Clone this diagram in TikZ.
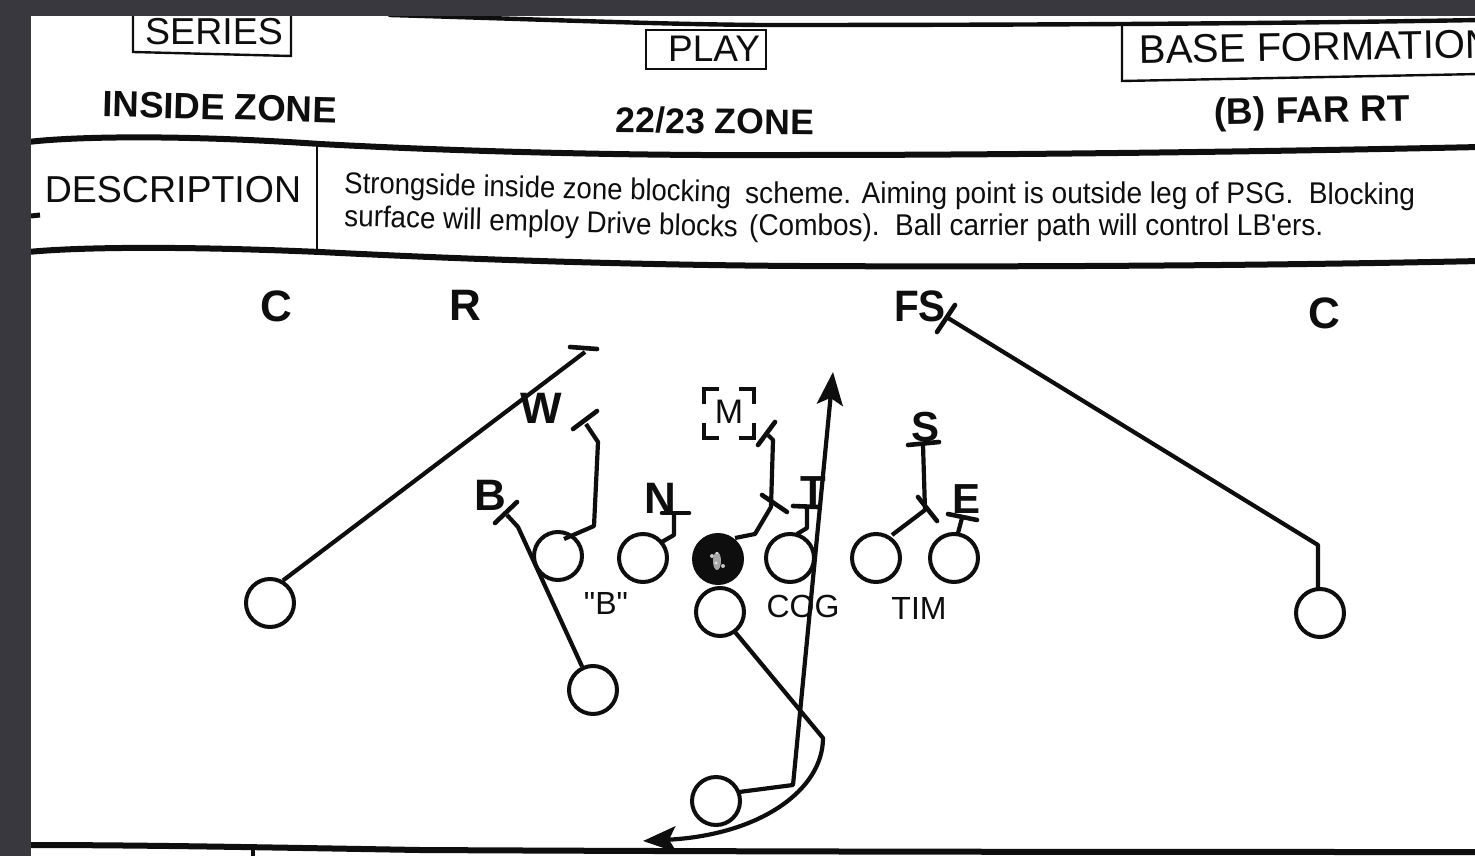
\documentclass[tikz,border=0pt]{standalone}
\usepackage{fontspec}
\usepackage{graphicx}
\setmainfont{Liberation Sans}
\newfontfamily\plainf{Liberation Sans}
\usetikzlibrary{arrows.meta}
\definecolor{ink}{HTML}{0E0E0E}
\definecolor{chrome}{HTML}{38383E}
\newcommand{\fs}[1]{\fontsize{#1}{#1}\selectfont}
\tikzset{
  rule/.style={draw=ink,line width=6pt,line cap=round},
  thinbox/.style={draw=ink,line width=2.4pt},
  player/.style={circle,draw=ink,line width=4pt,fill=white,minimum size=48pt,inner sep=0pt},
  route/.style={draw=ink,line width=4.2pt,line join=round},
  bar/.style={draw=ink,line width=4.6pt,line cap=round},
  defl/.style={text=ink,font=\fs{44}\bfseries,inner sep=0pt},
  lbl/.style={text=ink,font=\fs{32},inner sep=0pt},
  head/.style={text=ink,inner sep=0pt},
  desc/.style={text=ink,font=\fs{30},inner sep=0pt,anchor=base west},
  bigtip/.style={-{Stealth[length=33pt,width=26pt,inset=7pt]}},
}
\begin{document}
\begin{tikzpicture}[x=1pt,y=-1pt]
\useasboundingbox (0,0) rectangle (1475,856);
\clip (0,0) rectangle (1475,856);
\fill[white] (0,0) rectangle (1475,856);
% header rules
\draw[rule,line width=4.4pt] (390,15) .. controls (560,20) and (650,24) .. (760,25) .. controls (1000,25) and (1250,24) .. (1480,20);
\draw[rule] (28,142) .. controls (70,137) and (170,134) .. (320,144) .. controls (470,152) and (640,156) .. (800,155) .. controls (1000,155) and (1250,152) .. (1480,147);
\draw[rule] (28,252) .. controls (80,247) and (180,246) .. (320,252) .. controls (480,260) and (640,265) .. (800,266) .. controls (1000,267) and (1250,266) .. (1480,261);
\draw[rule] (28,845) .. controls (150,845) and (300,848) .. (420,850) .. controls (800,852) and (1200,852) .. (1480,852);
\draw[thinbox,line width=4pt] (253,849) -- (253,860);
\draw[thinbox] (317,145) -- (317,250);
\draw[ink,line width=5pt] (31,216) -- (40,215);
% boxes
\draw[thinbox] (133,14) -- (133,52) -- (291,56) -- (291,14);
\draw[thinbox] (646,30) rectangle (766,69);
\draw[thinbox] (1122,24) -- (1122,81) -- (1480,74);
% header text
\node[head,font=\fs{37.5}] (series) at (214,32) {SERIES};
\node[head,font=\fs{37}] (play) at (714,49) {PLAY};
\node[head,font=\fs{40},anchor=west,rotate=1] (base) at (1139,50) {BASE FORMATION};
\node[head,font=\fs{36.6}\bfseries,rotate=-1.5] (inzone) at (220,107) {INSIDE ZONE};
\node[head,font=\fs{35.6}\bfseries,rotate=-0.6] (zone) at (715,121) {22/23 ZONE};
\node[head,font=\fs{37}\bfseries,rotate=1] (far) at (1312,113) {(B) FAR RT};
\node[head,font=\fs{37.5}] (descr) at (173,190) {DESCRIPTION};
% description
\node[desc,rotate=-1.4] (d1) at (344,193) {\scalebox{.917}[1]{Strongside inside zone blocking}};
\node[desc,rotate=-0.1] (d2) at (745,203) {\scalebox{.935}[1]{scheme. Aiming point is outside leg of PSG.\ \ Blocking}};
\node[desc,rotate=-1.6] (d3) at (344,226) {\scalebox{.926}[1]{surface will employ Drive blocks}};
\node[desc,rotate=0.1] (d4) at (749,236) {\scalebox{.932}[1]{\plainf (Combos).\ \ Ball carrier path will control LB'ers.}};
% defenders
\node[defl] (dc1) at (276,306) {C};
\node[defl] (dr) at (465,305) {R};
\node[defl] (dfs) at (920,306) {\scalebox{.92}[1]{FS}};
\node[defl] (dc2) at (1324,313) {C};
\node[defl] (dw) at (541,408) {W};
\node[defl] (db) at (490,495) {B};
\node[defl] (dn) at (660,498) {N};
\node[defl,font=\fs{42}\bfseries] (dt) at (813,491) {T};
\node[defl,font=\fs{42}\bfseries] (ds) at (925,427) {S};
\node[defl,font=\fs{42}\bfseries] (de) at (966,499) {E};
\node[text=ink,font=\fs{34},inner sep=0pt] (dm) at (729,412) {M};
% M brackets
\foreach \a/\b/\c/\d/\e/\f in {704/404/704/389/719/389, 739/389/754/389/754/404, 704/423/704/438/719/438, 739/438/754/438/754/423}
  \draw[ink,line width=4pt] (\a,\b) -- (\c,\d) -- (\e,\f);
% players
\node[player] (lwr) at (270,603) {};
\node[player] (lt) at (558,556) {};
\node[player] (lg) at (643,558) {};
\node[player,fill=ink] (ctr) at (718,559) {};
\node[player] (qb) at (720,612) {};
\node[player] (rg) at (790,558) {};
\node[player] (rt) at (876,558) {};
\node[player] (te) at (954,558) {};
\node[player] (rwr) at (1320,613) {};
\node[player] (hb) at (593,690) {};
\node[player] (fb) at (716,801) {};
\fill[gray!70] (717,561) ellipse (4pt and 9pt);
\fill[gray!45] (712,556) circle (2pt);
\fill[gray!45] (723,566) circle (2pt);
\fill[white!80!gray] (717,553) circle (1.2pt);
\fill[white!80!gray] (716,563) circle (1.5pt);
% labels
\node[lbl] (lb) at (606,603) {\plainf "B"};
\node[lbl] (lcog) at (803,606) {COG};
\node[lbl] (ltim) at (919,608) {TIM};
% route coordinates
\coordinate (a1) at (585,352);
\coordinate (b1a) at (570,347); \coordinate (b1b) at (597,349);
\coordinate (a2) at (564,539); \coordinate (a3) at (594,526); \coordinate (a4) at (598,442); \coordinate (a5) at (586,424);
\coordinate (b2a) at (573,429); \coordinate (b2b) at (597,411);
\coordinate (k1) at (518,527); \coordinate (a6) at (507,515);
\coordinate (b3a) at (495,523); \coordinate (b3b) at (517,502);
\coordinate (a7) at (660,543); \coordinate (a8) at (674,535); \coordinate (a9) at (674,513);
\coordinate (b4a) at (662,513); \coordinate (b4b) at (689,513);
\coordinate (c1) at (735,538); \coordinate (c2) at (755,534); \coordinate (c3) at (771,507); \coordinate (c4) at (773,440); \coordinate (c5) at (768,435);
\coordinate (b5a) at (758,445); \coordinate (b5b) at (775,422);
\coordinate (b6a) at (762,495); \coordinate (b6b) at (787,512);
\coordinate (d1a) at (797,534); \coordinate (d2a) at (807,528); \coordinate (d3a) at (807,507);
\coordinate (b7a) at (793,506); \coordinate (b7b) at (818,507);
\coordinate (e1) at (892,535); \coordinate (e2) at (925,510); \coordinate (e3) at (923,445);
\coordinate (b8a) at (908,445); \coordinate (b8b) at (939,442);
\coordinate (b9a) at (918,497); \coordinate (b9b) at (937,521);
\coordinate (f1) at (958,533); \coordinate (f2) at (962,518);
\coordinate (b10a) at (948,514); \coordinate (b10b) at (977,520);
\coordinate (g1) at (1318,588); \coordinate (g2) at (1318,545); \coordinate (g3) at (948,318);
\coordinate (b11a) at (937,332); \coordinate (b11b) at (955,305);
\coordinate (q1) at (735,632); \coordinate (q2) at (823,738); \coordinate (q3) at (643,841);
\coordinate (h1) at (739,792); \coordinate (h2) at (793,785); \coordinate (h3) at (833,372);
% routes
\draw[route] (lwr.60) -- (a1);
\draw[bar] (b1a) -- (b1b);
\draw[route] (a2) -- (a3) -- (a4) -- (a5);
\draw[bar] (b2a) -- (b2b);
\draw[route] (hb.115) -- (k1) -- (a6);
\draw[bar] (b3a) -- (b3b);
\draw[route] (a7) -- (a8) -- (a9);
\draw[bar] (b4a) -- (b4b);
\draw[route] (c1) -- (c2) -- (c3) -- (c4) -- (c5);
\draw[bar] (b5a) -- (b5b);
\draw[bar] (b6a) -- (b6b);
\draw[route] (d1a) -- (d2a) -- (d3a);
\draw[bar] (b7a) -- (b7b);
\draw[route] (e1) -- (e2) -- (e3);
\draw[bar] (b8a) -- (b8b);
\draw[bar] (b9a) -- (b9b);
\draw[route] (f1) -- (f2);
\draw[bar] (b10a) -- (b10b);
\draw[route] (rwr) -- (g1) -- (g2) -- (g3);
\draw[bar] (b11a) -- (b11b);
\draw[route,bigtip] (q1) -- (q2) .. controls (823,790) and (760,835) .. (q3);
\draw[route,bigtip] (fb) -- (h1) -- (h2) -- (h3);
% screen chrome
\fill[chrome] (0,0) rectangle (1475,16);
\fill[chrome] (0,0) rectangle (31,856);
\end{tikzpicture}
\end{document}
